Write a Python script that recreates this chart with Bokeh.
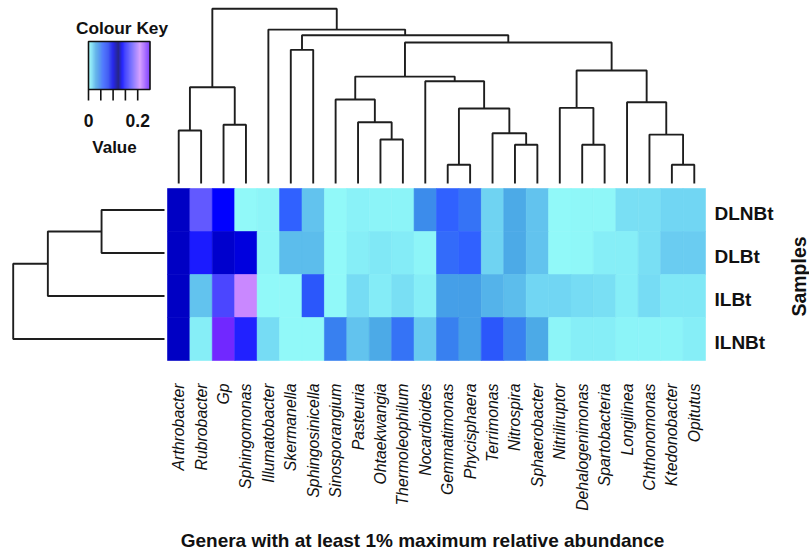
import numpy as np
from bokeh.plotting import figure
from bokeh.models import Range1d, ColumnDataSource, LinearColorMapper
from bokeh.core.properties import value
from bokeh.embed import file_html
from bokeh.resources import INLINE

# ---------------- data ----------------
genera = ["Arthrobacter", "Rubrobacter", "Gp", "Sphingomonas", "Illumatobacter",
          "Skermanella", "Sphingosinicella", "Sinosporangium", "Pasteuria",
          "Ohtaekwangia", "Thermoleophilum", "Nocardioides", "Gemmatimonas",
          "Phycisphaera", "Terrimonas", "Nitrospira", "Sphaerobacter",
          "Nitriliruptor", "Dehalogenimonas", "Spartobacteria", "Longilinea",
          "Chthonomonas", "Ktedonobacter", "Opitutus"]
samples = ["DLNBt", "DLBt", "ILBt", "ILNBt"]

DLNBt = [0.131, 0.175, 0.138, 0.001, 0.003, 0.060, 0.022, 0.001, 0.005, 0.004, 0.004, 0.043,
         0.060, 0.053, 0.017, 0.030, 0.022, 0.001, 0.002, 0.002, 0.013, 0.013, 0.016, 0.016]
DLBt = [0.131, 0.146, 0.132, 0.134, 0.003, 0.024, 0.024, 0.001, 0.007, 0.010, 0.008, 0.003,
        0.056, 0.060, 0.017, 0.030, 0.022, 0.001, 0.002, 0.007, 0.007, 0.013, 0.019, 0.019]
ILBt = [0.131, 0.022, 0.166, 0.212, 0.001, 0.001, 0.066, 0.001, 0.014, 0.008, 0.013, 0.007,
        0.035, 0.035, 0.027, 0.024, 0.016, 0.016, 0.014, 0.013, 0.007, 0.014, 0.010, 0.010]
ILNBt = [0.131, 0.007, 0.247, 0.148, 0.014, 0.001, 0.001, 0.048, 0.022, 0.030, 0.053, 0.020,
         0.048, 0.035, 0.066, 0.048, 0.030, 0.003, 0.007, 0.007, 0.004, 0.004, 0.004, 0.007]
rows = [DLNBt, DLBt, ILBt, ILNBt]

# column dendrogram: (left, right, height); ids >= 24 are earlier merges
col_merges = [(0, 1, 0.303), (2, 3, 0.336), (24, 25, 0.551), (5, 6, 0.765),
              (9, 10, 0.252), (8, 28, 0.351), (7, 29, 0.481), (12, 13, 0.107),
              (15, 16, 0.222), (14, 32, 0.288), (31, 33, 0.429), (11, 34, 0.585),
              (30, 35, 0.612), (18, 19, 0.222), (17, 37, 0.433), (22, 23, 0.107),
              (21, 39, 0.280), (20, 40, 0.465), (38, 41, 0.647), (36, 42, 0.807),
              (27, 43, 0.849), (4, 44, 0.881), (26, 45, 1.000)]
# row dendrogram
row_merges = [(0, 1, 0.416), (4, 2, 0.771), (5, 3, 1.000)]

key_low, key_high = 0.0, 0.25
key_ticks = [0.0, 0.05, 0.10, 0.15, 0.20]
key_labels = {0.0: "0", 0.20: "0.2"}

stop_vals = [0.0, 0.010, 0.020, 0.030, 0.045, 0.060, 0.080, 0.100, 0.122, 0.138,
             0.150, 0.175, 0.210, 0.250]
stop_cols = ["#93FBF9", "#80E8F6", "#66C8F0", "#4AA8E6", "#3A88EC", "#3060FF", "#2040F0",
             "#0000E8", "#000070", "#0000FF", "#2828FF", "#6058FF", "#D090FF", "#6A20FF"]

# ---------------- palette ----------------
def hex2rgb(h):
    return [int(h[i:i + 2], 16) for i in (1, 3, 5)]

rgb = np.array([hex2rgb(c) for c in stop_cols], dtype=float)
grid = np.linspace(key_low, key_high, 256)
palette = []
for g in grid:
    r, gg, b = (np.interp(g, stop_vals, rgb[:, k]) for k in range(3))
    palette.append("#%02x%02x%02x" % (int(round(r)), int(round(gg)), int(round(b))))
mapper = LinearColorMapper(palette=palette, low=key_low, high=key_high)

# ---------------- layout (screen px) ----------------
W, H = 809, 554
X0, Y0 = 0, 0
hm_left, hm_top, hm_w, hm_h = 167.0, 188.0, 538.0, 172.0
ncol, nrow = len(genera), len(samples)
cw, rh = hm_w / ncol, hm_h / nrow
top_base, top_root = 183.0, 8.3
left_base, left_root = 164.0, 12.7
key_x0, key_px = 88.0, 246.0
key_top, key_bot = 41.0, 89.0

p = figure(width=W, height=H, x_range=Range1d(X0, X0 + W), y_range=Range1d(Y0 + H, Y0),
           output_backend="svg", toolbar_location=None, min_border=0,
           x_axis_location=None, y_axis_location=None)
p.grid.visible = False
p.outline_line_color = None
p.background_fill_color = "white"
p.border_fill_color = "white"

p.extra_x_ranges = {
    "hx": Range1d((X0 - hm_left) / cw, (X0 + W - hm_left) / cw),
    "lx": Range1d((left_base - X0) / (left_base - left_root),
                  (left_base - X0 - W) / (left_base - left_root)),
    "kx": Range1d((X0 - key_x0) / key_px, (X0 + W - key_x0) / key_px),
}
p.extra_y_ranges = {
    "hy": Range1d((Y0 + H - hm_top) / rh, (Y0 - hm_top) / rh),
    "dy": Range1d((top_base - Y0 - H) / (top_base - top_root),
                  (top_base - Y0) / (top_base - top_root)),
}

# heatmap
hx, hy, hv = [], [], []
for r, vals in enumerate(rows):
    for c, v in enumerate(vals):
        hx.append(c + 0.5)
        hy.append(r + 0.5)
        hv.append(v)
src = ColumnDataSource(dict(x=hx, y=hy, v=hv))
p.rect(x="x", y="y", width=1, height=1, source=src, x_range_name="hx", y_range_name="hy",
       fill_color={"field": "v", "transform": mapper},
       line_color={"field": "v", "transform": mapper}, line_width=0.6)

# dendrograms
def dendro(merges, n):
    pos = {i: i + 0.5 for i in range(n)}
    hgt = {i: 0.0 for i in range(n)}
    P, Hh = [], []
    for k, (a, b, h) in enumerate(merges):
        P.append([pos[a], pos[a], pos[b], pos[b]])
        Hh.append([hgt[a], h, h, hgt[b]])
        pos[n + k] = (pos[a] + pos[b]) / 2
        hgt[n + k] = h
    return P, Hh

cp, ch = dendro(col_merges, ncol)
p.multi_line(xs=cp, ys=ch, x_range_name="hx", y_range_name="dy",
             line_color="#1e1e1e", line_width=1.9)
rp, rhh = dendro(row_merges, nrow)
p.multi_line(xs=rhh, ys=rp, x_range_name="lx", y_range_name="hy",
             line_color="#1e1e1e", line_width=1.9)

# colour key
nk = 125
step = (key_high - key_low) / nk
kv = [key_low + step * (i + 0.5) for i in range(nk)]
p.rect(x=kv, y=[(key_top + key_bot) / 2] * nk, width=step * 1.3, height=key_bot - key_top,
       x_range_name="kx", fill_color={"field": "x", "transform": mapper}, line_color=None)
p.quad(left=[key_low], right=[key_high], top=[key_top], bottom=[key_bot], x_range_name="kx",
       fill_color=None, line_color="#111111", line_width=1.6)
p.segment(x0=key_ticks, y0=[key_bot] * len(key_ticks), x1=key_ticks,
          y1=[key_bot + 11] * len(key_ticks), x_range_name="kx",
          line_color="#111111", line_width=1.6)

FONT = value("Liberation Sans")
p.text(x=list(key_labels.keys()), y=[120, 120], text=list(key_labels.values()),
       x_range_name="kx", text_align="center", text_baseline="middle",
       text_font=FONT, text_font_style="bold", text_font_size="17.5px",
       text_color="#111111")
p.text(x=[121.5], y=[27], text=["Colour Key"], text_align="center", text_baseline="middle",
       text_font=FONT, text_font_style="bold", text_font_size="17.3px", text_color="#111111")
p.text(x=[114], y=[147], text=["Value"], text_align="center", text_baseline="middle",
       text_font=FONT, text_font_style="bold", text_font_size="17px", text_color="#111111")

# column labels
p.text(x=[c + 0.5 for c in range(ncol)], y=[383] * ncol, text=genera, x_range_name="hx",
       angle=np.pi / 2, text_align="right", text_baseline="middle",
       text_font=FONT, text_font_style="italic", text_font_size="15.8px", text_color="#111111")

# row labels
p.text(x=[714] * nrow, y=[r + 0.5 for r in range(nrow)], text=samples, y_range_name="hy",
       text_align="left", text_baseline="middle", y_offset=3,
       text_font=FONT, text_font_style="bold", text_font_size="19px", text_color="#111111")

p.text(x=[798], y=[276], text=["Samples"], angle=np.pi / 2, text_align="center",
       text_baseline="middle", text_font=FONT, text_font_style="bold", text_font_size="19.5px",
       text_color="#111111")
p.text(x=[422], y=[540], text=["Genera with at least 1% maximum relative abundance"],
       text_align="center", text_baseline="middle", text_font=FONT, text_font_style="bold",
       text_font_size="19px", text_color="#111111")

open("out.html", "w").write(file_html(p, INLINE))
